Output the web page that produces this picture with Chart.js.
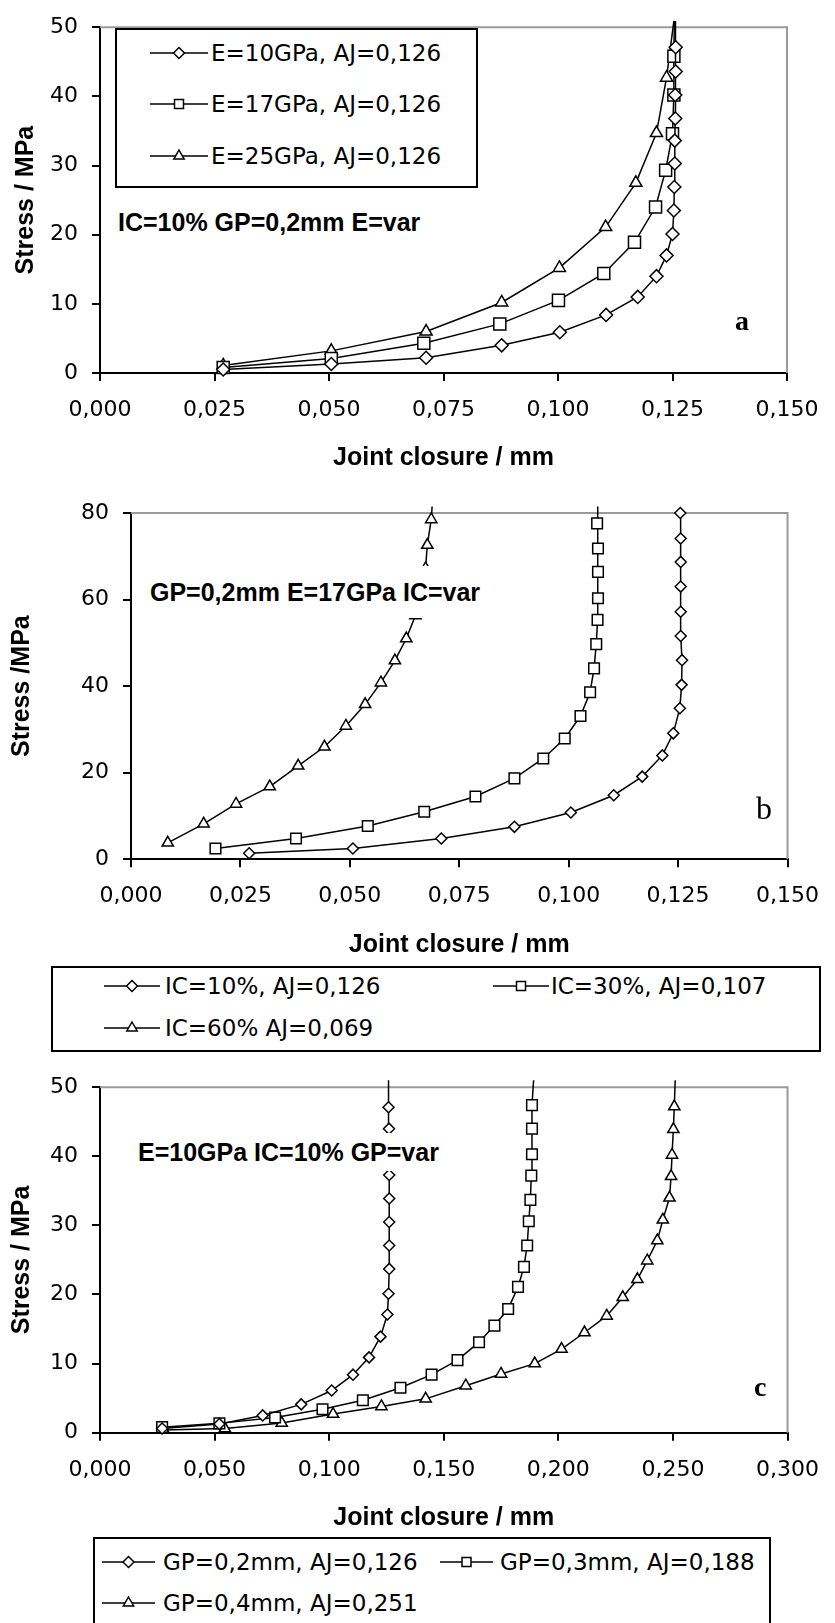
<!DOCTYPE html>
<html><head><meta charset="utf-8">
<script src="https://cdn.jsdelivr.net/npm/chart.js@4.4.1/dist/chart.umd.min.js"></script>
<style>
html,body{margin:0;padding:0;background:#fff;width:835px;height:1623px;overflow:hidden;}
#wrap{position:relative;width:835px;height:1623px;overflow:hidden;}
canvas{position:absolute;left:0;}
.box{position:absolute;border:2px solid #000;background:#fff;box-sizing:border-box;}
.item{position:absolute;display:flex;align-items:center;font-family:"DejaVu Sans",sans-serif;font-size:23px;white-space:nowrap;height:30px;line-height:30px;color:#000;}
.item svg{display:block;flex:none;}
.note{position:absolute;font-family:"Liberation Sans",Arial,sans-serif;font-weight:bold;font-size:25px;white-space:nowrap;background:#fff;color:#000;line-height:30px;}
.tag{position:absolute;font-family:"Liberation Serif","Times New Roman",serif;color:#000;line-height:40px;height:40px;}
</style></head>
<body><div id="wrap">
<canvas id="cA" width="835" height="480" style="top:0px"></canvas>
<canvas id="cB" width="835" height="480" style="top:480px"></canvas>
<canvas id="cC" width="835" height="480" style="top:1060px"></canvas>
</div>
<script>
// ---------- Chart a : E variable ----------
const aLabels = ['E=10GPa, AJ=0,126', 'E=17GPa, AJ=0,126', 'E=25GPa, AJ=0,126'];
const aE10X = [0.0269, 0.0505, 0.0712, 0.0877, 0.1004, 0.1105, 0.1174, 0.1215, 0.1237, 0.1250, 0.1253, 0.1254, 0.1255, 0.1255, 0.1256, 0.1256, 0.1257, 0.1257, 0.1256];
const aE10Y = [0.5, 1.3, 2.2, 4.0, 5.9, 8.4, 11.0, 14.0, 17.0, 20.1, 23.5, 26.9, 30.3, 33.6, 36.8, 40.2, 43.6, 47.1, 50.9];
const aE17X = [0.0269, 0.0505, 0.0707, 0.0873, 0.1001, 0.1100, 0.1167, 0.1213, 0.1235, 0.1250, 0.1253, 0.1253, 0.1254];
const aE17Y = [0.8, 2.1, 4.3, 7.1, 10.5, 14.4, 18.9, 24.0, 29.3, 34.6, 40.2, 45.8, 50.9];
const aE25X = [0.0269, 0.0505, 0.0712, 0.0877, 0.1003, 0.1104, 0.1170, 0.1215, 0.1237, 0.1253];
const aE25Y = [1.1, 3.2, 6.0, 10.2, 15.2, 21.1, 27.5, 34.7, 42.7, 50.9];
const aXTicks = [0, 0.025, 0.05, 0.075, 0.1, 0.125, 0.15];
const aXTickLabels = ['0,000', '0,025', '0,050', '0,075', '0,100', '0,125', '0,150'];
const aYTicks = [0, 10, 20, 30, 40, 50];
const aYTickLabels = ['0', '10', '20', '30', '40', '50'];

// ---------- Chart b : IC variable ----------
const bLabels = ['IC=10%, AJ=0,126', 'IC=30%, AJ=0,107', 'IC=60% AJ=0,069'];
const bIC10X = [0.0270, 0.0507, 0.0709, 0.0876, 0.1005, 0.1103, 0.1168, 0.1214, 0.1239, 0.1254, 0.1258, 0.1259, 0.1256, 0.1256, 0.1256, 0.1256, 0.1256, 0.1255];
const bIC10Y = [1.4, 2.5, 4.8, 7.5, 10.8, 14.8, 19.1, 24.0, 29.1, 34.9, 40.3, 46.0, 51.6, 57.2, 63.0, 68.7, 74.1, 80.0];
const bIC30X = [0.0193, 0.0377, 0.0541, 0.0670, 0.0787, 0.0876, 0.0942, 0.0991, 0.1027, 0.1049, 0.1058, 0.1063, 0.1066, 0.1067, 0.1067, 0.1067, 0.1065, 0.1066];
const bIC30Y = [2.5, 4.8, 7.7, 11.0, 14.5, 18.7, 23.3, 27.9, 33.1, 38.6, 44.1, 49.7, 55.3, 60.3, 66.4, 71.8, 77.6, 81.5];
const bIC60X = [0.0084, 0.0166, 0.0240, 0.0317, 0.0382, 0.0442, 0.0491, 0.0535, 0.0571, 0.0603, 0.0629, 0.0650, 0.0663, 0.0673, 0.0677, 0.0686, 0.0688];
const bIC60Y = [3.8, 8.2, 12.8, 16.8, 21.6, 26.0, 30.8, 35.8, 40.8, 45.9, 51.0, 56.3, 61.7, 67.2, 72.6, 78.5, 81.5];
const bXTicks = [0, 0.025, 0.05, 0.075, 0.1, 0.125, 0.15];
const bXTickLabels = ['0,000', '0,025', '0,050', '0,075', '0,100', '0,125', '0,150'];
const bYTicks = [0, 20, 40, 60, 80];
const bYTickLabels = ['0', '20', '40', '60', '80'];

// ---------- Chart c : GP variable ----------
const cLabels = ['GP=0,2mm, AJ=0,126', 'GP=0,3mm, AJ=0,188', 'GP=0,4mm, AJ=0,251'];
const cGP02X = [0.0271, 0.0521, 0.0710, 0.0878, 0.1011, 0.1104, 0.1174, 0.1224, 0.1254, 0.1259, 0.1262, 0.1262, 0.1262, 0.1262, 0.1262, 0.1262, 0.1261, 0.1259, 0.1259];
const cGP02Y = [0.6, 1.25, 2.5, 4.1, 6.1, 8.4, 10.9, 13.9, 17.1, 20.1, 23.7, 27.1, 30.5, 33.9, 37.3, 40.6, 44.0, 47.1, 51.0];
const cGP03X = [0.0271, 0.0521, 0.0764, 0.0971, 0.1147, 0.1311, 0.1447, 0.1560, 0.1654, 0.1721, 0.1781, 0.1824, 0.1850, 0.1864, 0.1871, 0.1878, 0.1882, 0.1885, 0.1885, 0.1885, 0.1892];
const cGP03Y = [0.8, 1.35, 2.2, 3.4, 4.7, 6.5, 8.4, 10.5, 13.1, 15.5, 17.9, 21.1, 24.0, 27.1, 30.6, 33.7, 37.2, 40.3, 44.0, 47.4, 51.0];
const cGP04X = [0.0278, 0.0545, 0.0793, 0.1017, 0.1228, 0.1421, 0.1596, 0.1750, 0.1897, 0.2014, 0.2114, 0.2211, 0.2281, 0.2345, 0.2388, 0.2432, 0.2456, 0.2485, 0.2492, 0.2496, 0.2502, 0.2506, 0.2510];
const cGP04Y = [0.4, 0.6, 1.4, 2.7, 3.8, 4.9, 6.8, 8.5, 10.0, 12.1, 14.5, 16.9, 19.6, 22.2, 24.9, 27.8, 30.8, 34.0, 37.1, 40.2, 43.9, 47.2, 51.0];
const cXTicks = [0, 0.05, 0.1, 0.15, 0.2, 0.25, 0.3];
const cXTickLabels = ['0,000', '0,050', '0,100', '0,150', '0,200', '0,250', '0,300'];
const cYTicks = [0, 10, 20, 30, 40, 50];
const cYTickLabels = ['0', '10', '20', '30', '40', '50'];

const xTitle = 'Joint closure / mm';
const notes = ['IC=10% GP=0,2mm E=var', 'GP=0,2mm E=17GPa IC=var', 'E=10GPa IC=10% GP=var'];

// ---------- helpers ----------
const frame = {
  id: 'frame',
  beforeDatasetsDraw(chart) {
    const {ctx, chartArea: {left, right, top, bottom}} = chart;
    ctx.save();
    ctx.strokeStyle = '#9a9a9a';
    ctx.lineWidth = 2;
    ctx.beginPath();
    ctx.moveTo(left, top);
    ctx.lineTo(right, top);
    ctx.lineTo(right, bottom);
    ctx.stroke();
    ctx.restore();
  }
};

function series(label, xs, ys, style, r, yMax) {
  return {
    label: label,
    data: xs.map((x, i) => ({x: x, y: ys[i]})),
    showLine: true,
    borderColor: '#000',
    borderWidth: 1.5,
    tension: 0,
    clip: false,
    pointStyle: style,
    pointRadius: c => (c.raw && c.raw.y > yMax) ? 0 : r,
    pointHoverRadius: c => (c.raw && c.raw.y > yMax) ? 0 : r,
    pointBackgroundColor: '#fff',
    pointBorderColor: '#000',
    pointBorderWidth: 1.5
  };
}

function makeChart(id, o) {
  const tickFont = {family: 'DejaVu Sans', size: 22};
  const titleFont = {family: 'Liberation Sans', size: 25, weight: 'bold'};
  return new Chart(document.getElementById(id), {
    type: 'scatter',
    data: {datasets: o.datasets},
    plugins: [frame],
    options: {
      responsive: false, animation: false, events: [],
      layout: {padding: o.pad},
      plugins: {legend: {display: false}, tooltip: {enabled: false}},
      scales: {
        x: {
          type: 'linear', min: o.xMin, max: o.xMax,
          afterBuildTicks: s => { s.ticks = o.xTicks.map(v => ({value: v})); },
          afterFit: s => { s.height = o.xH; },
          ticks: {callback: (v, i) => o.xTickLabels[i], font: tickFont, color: '#000', padding: 16, maxRotation: 0, autoSkip: false},
          grid: {drawOnChartArea: false, drawTicks: true, tickLength: 8, color: '#000', lineWidth: 2},
          border: {display: true, color: '#000', width: 2},
          title: {display: true, text: xTitle, font: titleFont, color: '#000', padding: {top: 0, bottom: 0}}
        },
        y: {
          type: 'linear', min: o.yMin, max: o.yMax,
          afterBuildTicks: s => { s.ticks = o.yTicks.map(v => ({value: v})); },
          afterFit: s => { s.width = o.yW; },
          ticks: {callback: (v, i) => o.yTickLabels[i], font: tickFont, color: '#000', padding: 14, autoSkip: false},
          grid: {drawOnChartArea: false, drawTicks: true, tickLength: 8, color: '#000', lineWidth: 2},
          border: {display: true, color: '#000', width: 2},
          title: {display: true, text: o.yTitle, font: titleFont, color: '#000', padding: {top: o.yTitlePad, bottom: 0}}
        }
      }
    }
  });
}

// ---------- charts ----------
makeChart('cA', {
  datasets: [
    series(aLabels[0], aE10X, aE10Y, 'rectRot', 6.5, 50),
    series(aLabels[1], aE17X, aE17Y, 'rect', 8.5, 50),
    series(aLabels[2], aE25X, aE25Y, 'triangle', 7, 50)
  ],
  xMin: 0, xMax: 0.15, xTicks: aXTicks, xTickLabels: aXTickLabels,
  yMin: 0, yMax: 50, yTicks: aYTicks, yTickLabels: aYTickLabels,
  yTitle: 'Stress / MPa', yTitlePad: 11,
  pad: {left: 0, right: 48, top: 16, bottom: 7}, xH: 100, yW: 100
});
makeChart('cB', {
  datasets: [
    series(bLabels[0], bIC10X, bIC10Y, 'rectRot', 5.5, 80),
    series(bLabels[1], bIC30X, bIC30Y, 'rect', 7.5, 80),
    series(bLabels[2], bIC60X, bIC60Y, 'triangle', 6.5, 80)
  ],
  xMin: 0, xMax: 0.15, xTicks: bXTicks, xTickLabels: bXTickLabels,
  yMin: 0, yMax: 80, yTicks: bYTicks, yTickLabels: bYTickLabels,
  yTitle: 'Stress /MPa', yTitlePad: 7,
  pad: {left: 0, right: 34, top: 33, bottom: 0}, xH: 100.7, yW: 131
});
makeChart('cC', {
  datasets: [
    series(cLabels[0], cGP02X, cGP02Y, 'rectRot', 5.5, 50),
    series(cLabels[1], cGP03X, cGP03Y, 'rect', 7.5, 50),
    series(cLabels[2], cGP04X, cGP04Y, 'triangle', 6.5, 50)
  ],
  xMin: 0, xMax: 0.3, xTicks: cXTicks, xTickLabels: cXTickLabels,
  yMin: 0, yMax: 50, yTicks: cYTicks, yTickLabels: cYTickLabels,
  yTitle: 'Stress / MPa', yTitlePad: 7,
  pad: {left: 0, right: 34, top: 25, bottom: 7}, xH: 100.3, yW: 100
});

// ---------- legends & notes (HTML) ----------
const wrap = document.getElementById('wrap');
function markerSVG(style, len) {
  const cx = len / 2, cy = 15;
  let shape = '';
  const st = 'fill="#fff" stroke="#000" stroke-width="1.5"';
  if (style === 'rectRot') {
    const r = 5.5;
    shape = `<polygon points="${cx - r},${cy} ${cx},${cy - r} ${cx + r},${cy} ${cx},${cy + r}" ${st}/>`;
  } else if (style === 'rect') {
    const s = 4.5;
    shape = `<rect x="${cx - s}" y="${cy - s}" width="${2 * s}" height="${2 * s}" ${st}/>`;
  } else {
    const r = 6;
    shape = `<polygon points="${cx},${cy - r} ${cx + 0.866 * r},${cy + 0.5 * r} ${cx - 0.866 * r},${cy + 0.5 * r}" ${st}/>`;
  }
  return `<svg width="${len}" height="30"><line x1="0" y1="15" x2="${len}" y2="15" stroke="#000" stroke-width="1.5"/>${shape}</svg>`;
}
function box(l, t, w, h) {
  const d = document.createElement('div');
  d.className = 'box';
  d.style.cssText = `left:${l}px;top:${t}px;width:${w}px;height:${h}px;`;
  wrap.appendChild(d);
}
function item(x, yc, len, gap, style, text) {
  const d = document.createElement('div');
  d.className = 'item';
  d.style.left = x + 'px';
  d.style.top = (yc - 15) + 'px';
  d.innerHTML = markerSVG(style, len) + `<span style="margin-left:${gap}px">${text}</span>`;
  wrap.appendChild(d);
}
function note(x, yc, padV, padH, text) {
  const d = document.createElement('div');
  d.className = 'note';
  d.style.left = (x - padH) + 'px';
  d.style.top = (yc - 15 - padV) + 'px';
  d.style.padding = `${padV}px ${padH}px`;
  d.textContent = text;
  wrap.appendChild(d);
}
function tag(x, top, size, weight, text) {
  const d = document.createElement('div');
  d.className = 'tag';
  d.style.left = x + 'px';
  d.style.top = top + 'px';
  d.style.fontSize = size + 'px';
  d.style.fontWeight = weight;
  d.textContent = text;
  wrap.appendChild(d);
}

// legend a (inside plot)
box(115, 28, 363, 160);
item(150, 53, 58, 3, 'rectRot', aLabels[0]);
item(150, 104, 58, 3, 'rect', aLabels[1]);
item(150, 156, 58, 3, 'triangle', aLabels[2]);
// legend b
box(51, 966, 770, 86);
item(104, 986, 56, 5, 'rectRot', bLabels[0]);
item(493, 986, 56, 2, 'rect', bLabels[1]);
item(104, 1028, 56, 5, 'triangle', bLabels[2]);
// legend c
box(93, 1537, 678, 110);
item(102, 1562, 53, 8, 'rectRot', cLabels[0]);
item(440, 1562, 53, 7, 'rect', cLabels[1]);
item(102, 1603, 53, 8, 'triangle', cLabels[2]);

// notes with white background
note(118, 222, 2, 4, notes[0]);
note(150, 592, 11, 6, notes[1]);
note(138, 1152, 4, 4, notes[2]);

// panel letters
tag(735, 301, 28, 'bold', 'a');
tag(756, 788, 32, 'normal', 'b');
tag(754, 1367, 28, 'bold', 'c');
</script>
</body></html>
